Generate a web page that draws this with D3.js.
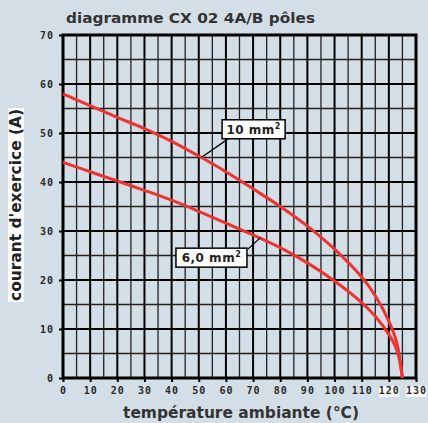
<!DOCTYPE html>
<html>
<head>
<meta charset="utf-8">
<script src="https://cdn.jsdelivr.net/npm/d3@7"></script>
<style>
  body { margin: 0; background: #d3dee6; }
  svg { display: block; }
</style>
</head>
<body>
<div id="chart"></div>
<script>
const width = 428;
const height = 423;

const margin = {
    left: 63,
    right: 12,
    top: 35,
    bottom: 45
}

// temperature (°C)
const temps10 = [0, 10, 20, 30, 40, 50, 60, 70, 80, 90, 100, 110, 115, 120, 123, 125];
const amps10  = [58, 55.6, 53.2, 50.9, 48.3, 45.3, 42.1, 38.6, 35, 31, 26.3, 20.6, 16.8, 11.6, 7, 0];

const temps6 = [0, 10, 20, 30, 40, 50, 60, 70, 80, 90, 100, 110, 115, 120, 123, 125];
const amps6  = [44, 42.1, 40.2, 38.3, 36.3, 34, 31.6, 29.2, 26.6, 23.5, 19.8, 15.4, 12.6, 8.9, 5.6, 0];

const xTicks = [0, 10, 20, 30, 40, 50, 60, 70, 80, 90, 100, 110, 120, 130];
const yTicks = [0, 10, 20, 30, 40, 50, 60, 70];

// annotation labels: text, box corner (data units), leader line (data units)
const labels = [
    {text: "10 mm", box: [58.6, 52.7], w: 63, from: [60.8, 48.8], to: [51.2, 45.1]},
    {text: "6,0 mm", box: [41.6, 26.5], w: 71, from: [68.1, 26.3], to: [72.6, 28.6]}
];

const bg = '#d3dee6';
const red = '#ee3330';

let svg = d3.select("#chart")
    .append("svg")
    .attr("width", width)
    .attr("height", height);

svg.append("rect")
    .attr("width", width)
    .attr("height", height)
    .attr("fill", bg);

let x = d3.scaleLinear()
    .domain([0, 130])
    .range([margin.left, width - margin.right]);

let y = d3.scaleLinear()
    .domain([0, 70])
    .range([height - margin.bottom, margin.top]);

// grid, every 5 units, heavier every 10
let xs = d3.range(5, 130, 5);
let ys = d3.range(5, 70, 5);

svg.selectAll(".vgrid")
    .data(xs)
    .join("line")
    .attr("class", "vgrid")
    .attr("x1", d => x(d)).attr("x2", d => x(d))
    .attr("y1", y(0)).attr("y2", y(70))
    .attr("stroke", d => d % 10 == 0 ? "#000" : "#222")
    .attr("stroke-width", d => d % 10 == 0 ? 2 : 1.3);

svg.selectAll(".hgrid")
    .data(ys)
    .join("line")
    .attr("class", "hgrid")
    .attr("y1", d => y(d)).attr("y2", d => y(d))
    .attr("x1", x(0)).attr("x2", x(130))
    .attr("stroke", d => d % 10 == 0 ? "#000" : "#222")
    .attr("stroke-width", d => d % 10 == 0 ? 2 : 1.5);

// frame
svg.append("rect")
    .attr("x", x(0))
    .attr("y", y(70))
    .attr("width", x(130) - x(0))
    .attr("height", y(0) - y(70))
    .attr("fill", "none")
    .attr("stroke", "#000")
    .attr("stroke-width", 3);

// axes
let xAxis = d3.axisBottom(x).tickValues(xTicks).tickSize(4).tickPadding(5);
let yAxis = d3.axisLeft(y).tickValues(yTicks).tickSize(4).tickPadding(5);

let gx = svg.append("g")
    .attr("transform", `translate(0,${y(0)})`)
    .call(xAxis);
let gy = svg.append("g")
    .attr("transform", `translate(${x(0)},0)`)
    .call(yAxis);

[gx, gy].forEach(g => {
    g.select(".domain").remove();
    g.selectAll(".tick line").attr("stroke", "#000").attr("stroke-width", 2);
    g.selectAll(".tick text")
        .attr("fill", "#2a2a2a")
        .style("font-family", "'DejaVu Sans Mono', monospace")
        .style("font-weight", "bold")
        .style("font-size", "10px")
        .style("letter-spacing", "1px");
});

// white highlight behind 120 and 130
gx.selectAll(".tick")
    .filter(d => d >= 120)
    .insert("rect", "text")
    .attr("x", -10).attr("y", 8)
    .attr("width", 20).attr("height", 11)
    .attr("fill", "#fff");

// curves
let line = d3.line()
    .x(d => x(d[0]))
    .y(d => y(d[1]))
    .curve(d3.curveCatmullRom.alpha(0.5));

svg.append("path")
    .datum(d3.zip(temps10, amps10))
    .attr("d", line)
    .attr("fill", "none")
    .attr("stroke", red)
    .attr("stroke-width", 3);

svg.append("path")
    .datum(d3.zip(temps6, amps6))
    .attr("d", line)
    .attr("fill", "none")
    .attr("stroke", red)
    .attr("stroke-width", 3);

// annotations
labels.forEach(l => {
    svg.append("line")
        .attr("x1", x(l.from[0])).attr("y1", y(l.from[1]))
        .attr("x2", x(l.to[0])).attr("y2", y(l.to[1]))
        .attr("stroke", "#000")
        .attr("stroke-width", 1.3);
    svg.append("rect")
        .attr("x", x(l.box[0]))
        .attr("y", y(l.box[1]))
        .attr("width", l.w)
        .attr("height", 19)
        .attr("fill", "#fff")
        .attr("stroke", "#000")
        .attr("stroke-width", 1.5);
    let t = svg.append("text")
        .attr("x", x(l.box[0]) + l.w / 2)
        .attr("y", y(l.box[1]) + 14)
        .attr("text-anchor", "middle")
        .attr("fill", "#222")
        .style("font-family", "'DejaVu Sans', sans-serif")
        .style("font-weight", "bold")
        .style("font-size", "12px")
        .style("letter-spacing", "0.5px");
    t.append("tspan").text(l.text);
    t.append("tspan").attr("dy", -5).style("font-size", "8px").text("2");
});

// titles
svg.append("text")
    .attr("x", 66)
    .attr("y", 23)
    .attr("textLength", 249)
    .attr("lengthAdjust", "spacingAndGlyphs")
    .attr("fill", "#333")
    .style("font-family", "'DejaVu Sans', sans-serif")
    .style("font-weight", "bold")
    .style("font-size", "14px")
    .text("diagramme CX 02 4A/B pôles");

svg.append("text")
    .attr("x", 123)
    .attr("y", 418)
    .attr("textLength", 236)
    .attr("lengthAdjust", "spacingAndGlyphs")
    .attr("fill", "#333")
    .style("font-family", "'DejaVu Sans', sans-serif")
    .style("font-weight", "bold")
    .style("font-size", "15px")
    .text("température ambiante (°C)");

let yl = svg.append("g")
    .attr("transform", "translate(21,302) rotate(-90)");
yl.append("rect")
    .attr("x", 0).attr("y", -13)
    .attr("width", 194).attr("height", 16)
    .attr("fill", "#fff");
yl.append("text")
    .attr("x", 1)
    .attr("y", 0)
    .attr("textLength", 192)
    .attr("lengthAdjust", "spacingAndGlyphs")
    .attr("fill", "#222")
    .style("font-family", "'DejaVu Sans', sans-serif")
    .style("font-weight", "bold")
    .style("font-size", "15px")
    .text("courant d'exercice (A)");
</script>
</body>
</html>
